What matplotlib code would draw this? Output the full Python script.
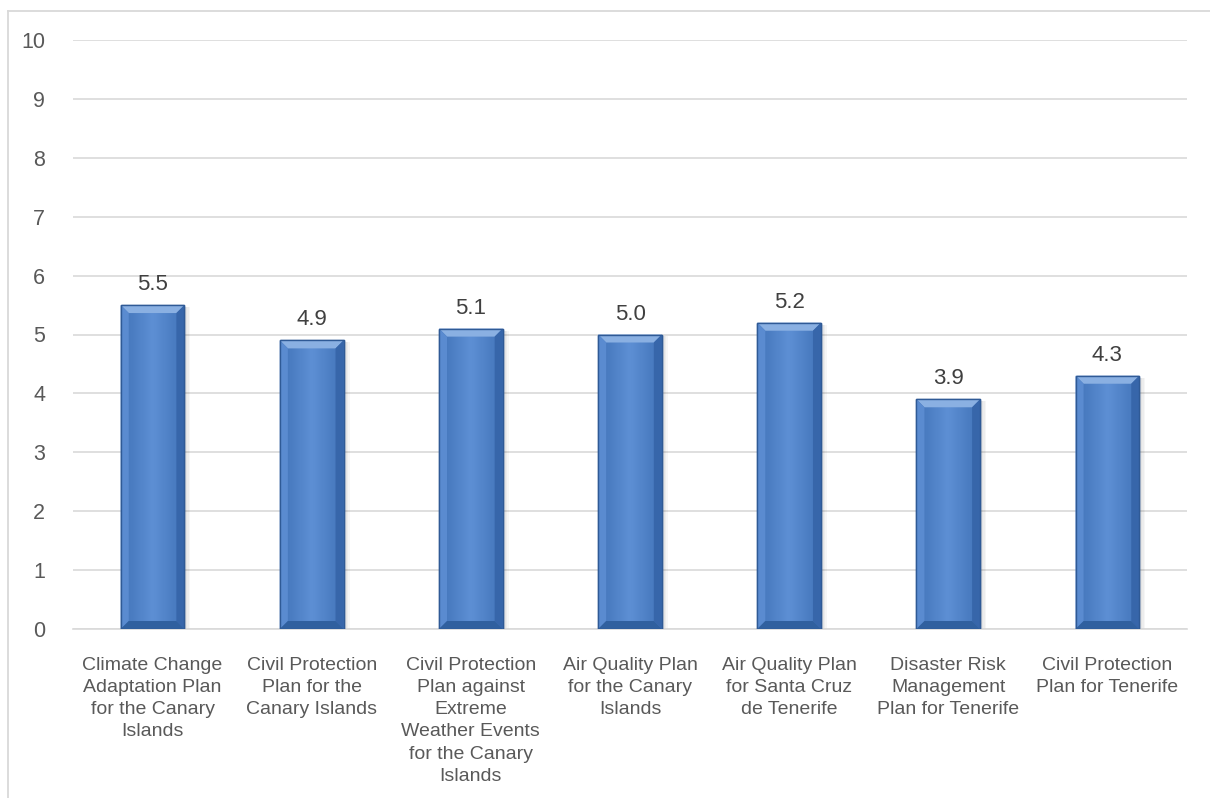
import numpy as np
import matplotlib.pyplot as plt
from matplotlib.patches import Polygon, Rectangle
from matplotlib.lines import Line2D
from matplotlib.colors import LinearSegmentedColormap

categories = [
    "Climate Change\nAdaptation Plan\nfor the Canary\nIslands",
    "Civil Protection\nPlan for the\nCanary Islands",
    "Civil Protection\nPlan against\nExtreme\nWeather Events\nfor the Canary\nIslands",
    "Air Quality Plan\nfor the Canary\nIslands",
    "Air Quality Plan\nfor Santa Cruz\nde Tenerife",
    "Disaster Risk\nManagement\nPlan for Tenerife",
    "Civil Protection\nPlan for Tenerife",
]
values = [5.5, 4.9, 5.1, 5.0, 5.2, 3.9, 4.3]
yticks = list(range(0, 11))

plt.rcParams['font.family'] = ['Liberation Sans', 'DejaVu Sans']

W, H = 1210, 798
fig = plt.figure(figsize=(W / 100, H / 100), dpi=100)
ax_pos = [73 / W, 1 - 629 / H, (1187 - 73) / W, (629 - 40) / H]
ax = fig.add_axes(ax_pos)

x = np.arange(len(categories))
bar_w = 0.4
ax.set_xlim(-0.5, len(categories) - 0.5)
ax.set_ylim(0, 10)

# pixels per data unit, for bevel and shadow sizes
px_x = ax_pos[2] * W / len(categories)
px_y = ax_pos[3] * H / 10
bx, by = 8 / px_x, 8 / px_y

grad = np.linspace(0, 1, 100).reshape(1, -1)
grad = 1 - np.abs(grad - 0.5) * 2
cmap = LinearSegmentedColormap.from_list("b", ["#4173b8", "#5d8fd4"])

bars = ax.bar(x, values, width=bar_w, color="#4f81c7", edgecolor="#2f5a96",
              linewidth=1.0, zorder=3)
for b, v in zip(bars, values):
    x0, x1 = b.get_x(), b.get_x() + b.get_width()
    # soft shadow on the right
    for k in range(1, 5):
        ax.add_patch(Rectangle((x0 + k * 1.5 / px_x, 0), x1 - x0, v - 2 / px_y,
                               facecolor="black", alpha=0.035, edgecolor="none", zorder=2.5))
    im = ax.imshow(grad, extent=[x0, x1, 0, v], aspect='auto', cmap=cmap,
                   zorder=3.1)
    im.set_clip_path(b)
    ax.add_patch(Polygon([(x0, v), (x1, v), (x1 - bx, v - by), (x0 + bx, v - by)],
                         closed=True, facecolor="#8ab0e2", edgecolor="none", zorder=3.2))
    ax.add_patch(Polygon([(x0, v), (x0 + bx, v - by), (x0 + bx, by), (x0, 0)],
                         closed=True, facecolor="#5a8bd0", edgecolor="none", zorder=3.2))
    ax.add_patch(Polygon([(x1, v), (x1 - bx, v - by), (x1 - bx, by), (x1, 0)],
                         closed=True, facecolor="#3766aa", edgecolor="none", zorder=3.2))
    ax.add_patch(Polygon([(x0, 0), (x1, 0), (x1 - bx, by), (x0 + bx, by)],
                         closed=True, facecolor="#30609f", edgecolor="none", zorder=3.2))
    ax.add_patch(Polygon([(x0, 0), (x1, 0), (x1, v), (x0, v)], closed=True,
                         facecolor="none", edgecolor="#2f5a96", linewidth=1.0, zorder=3.3))
    ax.text(b.get_x() + b.get_width() / 2, v + 15 / px_y, f"{v:.1f}", ha="center",
            va="baseline", fontsize=16, color="#404040", zorder=4)

ax.set_yticks(yticks)
ax.set_yticklabels([str(t) for t in yticks], fontsize=15.5, color="#595959")
ax.set_xticks(x)
ax.set_xticklabels(categories, fontsize=14, color="#595959", linespacing=1.4)
ax.tick_params(axis="both", length=0)
ax.tick_params(axis="y", pad=20)
ax.tick_params(axis="x", pad=20)
ax.grid(axis="y", color="#d9d9d9", linewidth=1.2, zorder=0)
ax.set_axisbelow(True)
for s in ["top", "right", "left"]:
    ax.spines[s].set_visible(False)
ax.spines["bottom"].set_color("#d9d9d9")
ax.spines["bottom"].set_linewidth(1.2)

# chart border
fig.add_artist(Line2D([7.5 / W, 7.5 / W], [0, 1 - 10.5 / H], color="#d9d9d9", lw=1.3))
fig.add_artist(Line2D([7.5 / W, 1], [1 - 10.5 / H, 1 - 10.5 / H], color="#d9d9d9", lw=1.3))

fig.savefig("out.png", dpi=100)
